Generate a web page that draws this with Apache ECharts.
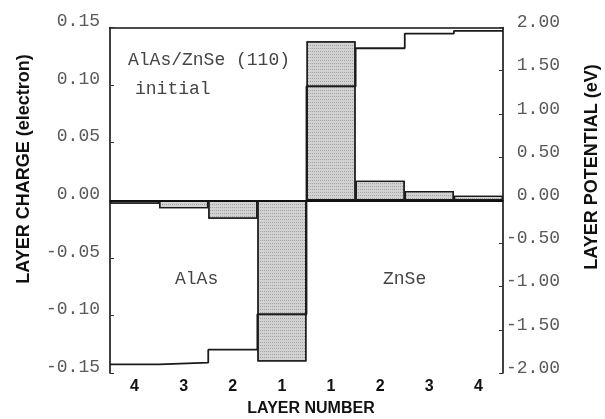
<!DOCTYPE html>
<html>
<head>
<meta charset="utf-8">
<script src="https://cdn.jsdelivr.net/npm/echarts@6/dist/echarts.min.js"></script>
<style>html,body{margin:0;padding:0;background:#fff}#c{width:605px;height:419px}</style>
</head>
<body>
<div id="c"></div>
<script>
// Layer labels: AlAs side (4..1), then ZnSe side (1..4)
var layerLabels = ['4', '3', '2', '1', '1', '2', '3', '4'];
// Layer charge (electron), left axis
var layerCharge = [-0.003, -0.007, -0.016, -0.140, 0.138, 0.017, 0.008, 0.004];
// Layer potential (eV), right axis
var layerPotential = [-1.90, -1.88, -1.73, -1.32, 1.32, 1.76, 1.93, 1.96];
var chargeTicks = { min: -0.15, max: 0.15, step: 0.05 };
var potentialTicks = { min: -2.0, max: 2.0, step: 0.5 };

var mono = '"Liberation Mono", "DejaVu Sans Mono", monospace';
var sans = '"Liberation Sans", Arial, sans-serif';

// Step line points: each layer value held across its layer width
var potPoints = layerPotential.map(function (v, i) { return [i, v]; });
potPoints.push([layerPotential.length, layerPotential[layerPotential.length - 1]]);

var chart = echarts.init(document.getElementById('c'), null, { renderer: 'canvas' });
chart.setOption({
  animation: false,
  backgroundColor: '#fff',
  grid: { left: 110, right: 102, top: 27.5, bottom: 46, containLabel: false },
  xAxis: [
    {
      type: 'category', data: layerLabels, position: 'bottom',
      axisLine: { show: true, lineStyle: { color: '#111', width: 1.6 } },
      axisTick: { show: false },
      axisLabel: { color: '#111', fontFamily: sans, fontWeight: 'bold', fontSize: 16, margin: 6 },
      splitLine: { show: false }
    },
    {
      type: 'value', min: 0, max: layerLabels.length, position: 'top',
      axisLine: { show: true, onZero: false, lineStyle: { color: '#111', width: 1.6 } },
      axisTick: { show: false }, axisLabel: { show: false }, splitLine: { show: false }
    }
  ],
  yAxis: [
    {
      type: 'value', min: chargeTicks.min, max: chargeTicks.max, interval: chargeTicks.step,
      position: 'left',
      axisLine: { show: true, onZero: false, lineStyle: { color: '#111', width: 1.6 } },
      axisTick: { show: true, inside: true, length: 4, lineStyle: { color: '#333' } },
      axisLabel: {
        color: '#5a5a5a', fontFamily: mono, fontSize: 18, margin: 10,
        verticalAlign: 'bottom', lineHeight: 12,
        formatter: function (v) { return v.toFixed(2); }
      },
      splitLine: { show: false }
    },
    {
      type: 'value', min: potentialTicks.min, max: potentialTicks.max, interval: potentialTicks.step,
      position: 'right',
      axisLine: { show: true, onZero: false, lineStyle: { color: '#111', width: 1.6 } },
      axisTick: { show: true, inside: true, length: 4, lineStyle: { color: '#333' } },
      axisLabel: {
        color: '#5a5a5a', fontFamily: mono, fontSize: 18, margin: 57, align: 'right',
        verticalAlign: 'bottom', lineHeight: 10,
        formatter: function (v) { return v.toFixed(2); }
      },
      splitLine: { show: false }
    }
  ],
  series: [
    {
      type: 'bar', xAxisIndex: 0, yAxisIndex: 0, data: layerCharge,
      barWidth: '100%', barCategoryGap: 0,
      itemStyle: {
        color: '#d2d2d2', borderColor: '#1a1a1a', borderWidth: 1.3,
        decal: { symbol: 'rect', symbolSize: 1, dashArrayX: [1, 1], dashArrayY: [1, 2], color: 'rgba(80,80,80,0.35)' }
      },
      markLine: {
        silent: true, symbol: 'none', label: { show: false },
        lineStyle: { color: '#111', width: 1.8, type: 'solid' },
        data: [{ yAxis: 0 }]
      },
      z: 2
    },
    {
      type: 'line', xAxisIndex: 1, yAxisIndex: 1, data: potPoints, step: 'end',
      showSymbol: false, symbol: 'none',
      lineStyle: { color: '#1a1a1a', width: 1.8 },
      z: 3
    }
  ],
  graphic: [
    { type: 'text', left: 128, top: 51, style: { text: 'AlAs/ZnSe (110)', font: '18px ' + mono, fill: '#444' } },
    { type: 'text', left: 135, top: 80, style: { text: 'initial', font: '18px ' + mono, fill: '#444' } },
    { type: 'text', left: 175, top: 270, style: { text: 'AlAs', font: '18px ' + mono, fill: '#444' } },
    { type: 'text', left: 383, top: 270, style: { text: 'ZnSe', font: '18px ' + mono, fill: '#444' } },
    { type: 'text', x: 311, y: 409, style: { text: 'LAYER NUMBER', font: 'bold 16px ' + sans, fill: '#111', textAlign: 'center', textVerticalAlign: 'middle' } },
    { type: 'text', x: 24, y: 169, rotation: Math.PI / 2, style: { text: 'LAYER CHARGE (electron)', font: 'bold 18px ' + sans, fill: '#111', textAlign: 'center', textVerticalAlign: 'middle' } },
    { type: 'text', x: 592, y: 167, rotation: Math.PI / 2, style: { text: 'LAYER POTENTIAL (eV)', font: 'bold 18px ' + sans, fill: '#111', textAlign: 'center', textVerticalAlign: 'middle' } }
  ]
});
</script>
</body>
</html>
